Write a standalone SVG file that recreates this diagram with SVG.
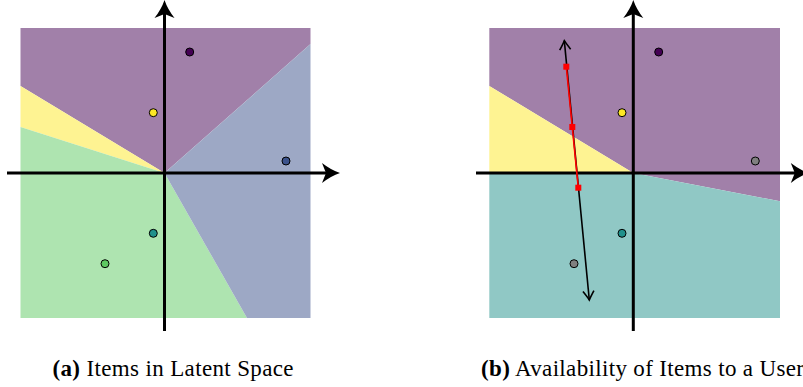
<svg xmlns="http://www.w3.org/2000/svg" width="803" height="387" viewBox="0 0 803 387">
<style>
.ax{stroke:#000;stroke-width:3;fill:none}
.ah{fill:#000;stroke:none}
.pt{stroke:#000;stroke-width:1}
.cap{font-family:"Liberation Serif","Times New Roman",serif;font-size:23px;fill:#000}
.b{font-weight:bold}
.ray{stroke:#000;stroke-width:1.6;fill:none}
.red{stroke:#f00;stroke-width:1.6;fill:none}
.sq{fill:#f00}
</style>
<defs>
<path id="ahU" d="M0,0 Q3,9 10,18 L0,14 L-10,18 Q-3,9 0,0 Z"/>
<path id="ahR" d="M0,0 Q-9,3 -18,10 L-14,0 L-18,-10 Q-9,-3 0,0 Z"/>
<marker id="open" markerUnits="userSpaceOnUse" viewBox="-10 -7 12 14" refX="0" refY="0" markerWidth="12" markerHeight="14" orient="auto-start-reverse">
<path d="M-9,-5.5 Q-3,-1.5 0,0 Q-3,1.5 -9,5.5" stroke="#000" stroke-width="1.6" fill="none"/>
</marker>
</defs>

<g id="panel-a">
<g id="regions-a">
<polygon points="20.5,28 310.5,28 310.5,44 164.5,173 20.5,86" fill="#a180a9"/>
<polygon points="20.5,86 164.5,173 20.5,127" fill="#fef392"/>
<polygon points="20.5,127 164.5,173 247,318 20.5,318" fill="#aee4b0"/>
<polygon points="164.5,173 310.5,44 310.5,318 247,318" fill="#9da8c5"/>
</g>
<g id="axes-a">
<line class="ax" x1="164.5" y1="331" x2="164.5" y2="12"/>
<line class="ax" x1="7" y1="173" x2="328" y2="173"/>
<use href="#ahU" class="ah" x="164.5" y="0"/>
<use href="#ahR" class="ah" x="340" y="173"/>
</g>
<g id="items-a">
<circle id="a-item-purple" class="pt" cx="189.7" cy="52" r="4" fill="#440154"/>
<circle id="a-item-yellow" class="pt" cx="153.3" cy="112.7" r="4" fill="#fde725"/>
<circle id="a-item-blue" class="pt" cx="286" cy="161" r="4" fill="#3b528b"/>
<circle id="a-item-teal" class="pt" cx="153.3" cy="233.3" r="4" fill="#21918c"/>
<circle id="a-item-green" class="pt" cx="105" cy="263.7" r="4" fill="#5ec962"/>
</g>
<text class="cap" x="52.5" y="376" textLength="241"><tspan class="b">(a)</tspan> Items in Latent Space</text>
</g>

<g id="panel-b">
<g id="regions-b">
<polygon points="489.3,28 780,28 780,201.3 633.3,173 489.3,86" fill="#a180a9"/>
<polygon points="489.3,86 633.3,173 489.3,173" fill="#fef392"/>
<polygon points="489.3,173 633.3,173 780,201.3 780,318 489.3,318" fill="#90c8c5"/>
</g>
<g id="axes-b">
<line class="ax" x1="633.3" y1="331" x2="633.3" y2="12"/>
<line class="ax" x1="476" y1="173" x2="797" y2="173"/>
<use href="#ahU" class="ah" x="633.3" y="0"/>
<use href="#ahR" class="ah" x="808.8" y="173"/>
</g>
<g id="items-b">
<circle id="b-item-purple" class="pt" cx="658.7" cy="52" r="4" fill="#440154"/>
<circle id="b-item-yellow" class="pt" cx="622" cy="112.7" r="4" fill="#fde725"/>
<circle id="b-item-gray1" class="pt" cx="755.3" cy="161" r="4" fill="#808080"/>
<circle id="b-item-teal" class="pt" cx="622" cy="233.3" r="4" fill="#21918c"/>
<circle id="b-item-gray2" class="pt" cx="574" cy="263.7" r="4" fill="#808080"/>
</g>
<g id="connectors">
<line class="ray" x1="589.3" y1="300" x2="564.3" y2="40.7" marker-start="url(#open)" marker-end="url(#open)"/>
<line class="red" x1="566.3" y1="66.7" x2="578.3" y2="187.7"/>
</g>
<g id="user-points">
<rect class="sq" x="563.3" y="63.7" width="6" height="6"/>
<rect class="sq" x="569.3" y="124" width="6" height="6"/>
<rect class="sq" x="575.3" y="184.7" width="6" height="6"/>
</g>
<text class="cap" x="481" y="376" textLength="323"><tspan class="b">(b)</tspan> Availability of Items to a User</text>
</g>
</svg>
